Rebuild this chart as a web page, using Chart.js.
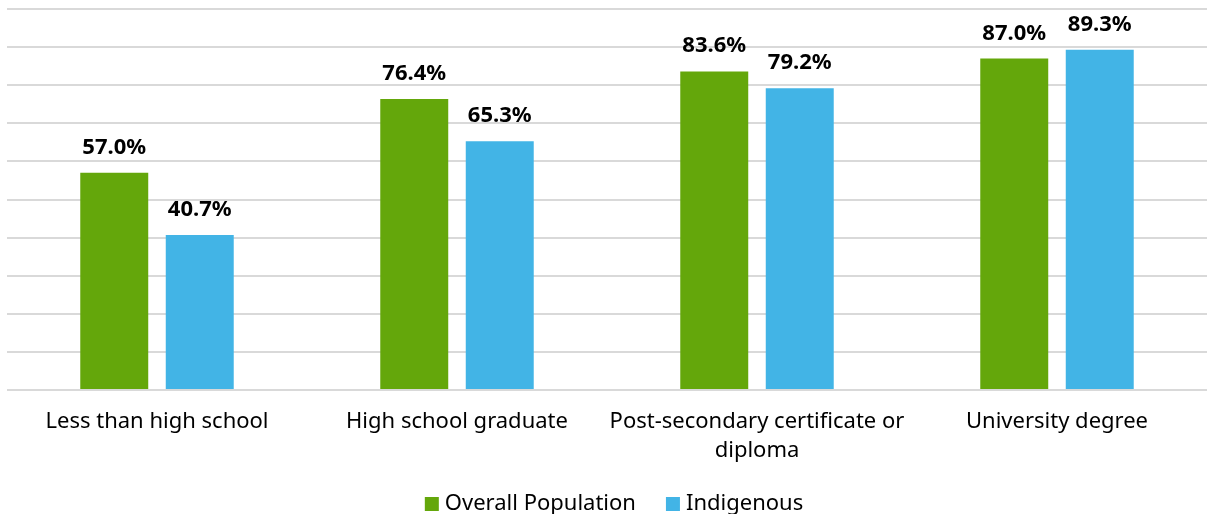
<!DOCTYPE html>
<html>
<head>
<meta charset="utf-8">
<script src="https://cdn.jsdelivr.net/npm/chart.js@4.4.1/dist/chart.umd.min.js"></script>
<style>
  html, body { margin: 0; padding: 0; background: #fff; }
  #wrap { width: 1207px; height: 514px; }
</style>
</head>
<body>
<div id="wrap"><canvas id="chart"></canvas></div>
<script>
// 数据
const categories = [
  'Less than high school',
  'High school graduate',
  ['Post-secondary certificate or', 'diploma'],
  'University degree'
];
const overallValues = [57.0, 76.4, 83.6, 87.0];
const indigenousValues = [40.7, 65.3, 79.2, 89.3];
const seriesNames = ['Overall Population', 'Indigenous'];
const seriesColors = ['#64a70b', '#42b4e6'];

const FONT = "'Noto Sans', 'DejaVu Sans', sans-serif";

// 柱顶数值标签
const valueLabels = {
  id: 'valueLabels',
  afterDatasetsDraw(chart) {
    const ctx = chart.ctx;
    ctx.save();
    ctx.font = 'bold 22px ' + FONT;
    ctx.fillStyle = '#000';
    ctx.textAlign = 'center';
    ctx.textBaseline = 'alphabetic';
    chart.data.datasets.forEach((ds, i) => {
      chart.getDatasetMeta(i).data.forEach((bar, j) => {
        ctx.fillText(ds.data[j].toFixed(1) + '%', bar.x, bar.y - 19);
      });
    });
    ctx.restore();
  }
};

// 底部图例（自绘，间距更贴近原图）
const bottomLegend = {
  id: 'bottomLegend',
  afterDraw(chart) {
    const ctx = chart.ctx;
    const box = 14, gap = 6, spacing = 30;
    ctx.save();
    ctx.font = '22px ' + FONT;
    const items = chart.data.datasets.map(ds => ({
      text: ds.label,
      color: ds.backgroundColor,
      w: box + gap + ctx.measureText(ds.label).width
    }));
    const total = items.reduce((s, it) => s + it.w, 0) + spacing * (items.length - 1);
    let x = 614 - total / 2;
    const baseY = 510;
    ctx.textBaseline = 'alphabetic';
    ctx.textAlign = 'left';
    items.forEach(it => {
      ctx.fillStyle = it.color;
      ctx.fillRect(x, baseY - 13, box, box);
      ctx.fillStyle = '#000';
      ctx.fillText(it.text, x + box + gap, baseY);
      x += it.w + spacing;
    });
    ctx.restore();
  }
};

new Chart(document.getElementById('chart'), {
  type: 'bar',
  data: {
    labels: categories,
    datasets: [
      { label: seriesNames[0], data: overallValues, backgroundColor: seriesColors[0] },
      { label: seriesNames[1], data: indigenousValues, backgroundColor: seriesColors[1] }
    ]
  },
  options: {
    responsive: true,
    maintainAspectRatio: false,
    animation: false,
    layout: { padding: { left: 7, right: 0, top: 9, bottom: 49 } },
    datasets: {
      bar: { categoryPercentage: 0.57, barPercentage: 0.795 }
    },
    scales: {
      x: {
        grid: { display: false, drawTicks: false },
        border: { display: false },
        ticks: {
          color: '#000',
          font: { family: FONT, size: 22, lineHeight: 1.32 },
          padding: 17,
          maxRotation: 0,
          autoSkip: false
        },
        afterFit(scale) { scale.height = 75; }
      },
      y: {
        min: 0,
        max: 100,
        ticks: { display: false, stepSize: 10 },
        grid: { color: '#d9d9d9', lineWidth: 2, drawTicks: false },
        border: { display: false }
      }
    },
    plugins: {
      legend: { display: false },
      tooltip: { enabled: false }
    }
  },
  plugins: [valueLabels, bottomLegend]
});
</script>
</body>
</html>
